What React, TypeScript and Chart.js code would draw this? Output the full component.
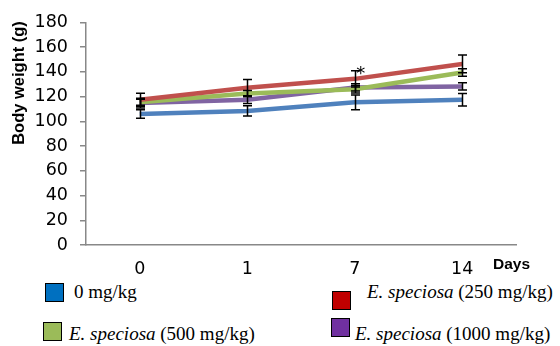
import React, { useEffect, useRef } from "react";
import { Chart, registerables } from "chart.js";

Chart.register(...registerables);

const days = ["0", "1", "7", "14"];
const control = [106, 108.5, 115.4, 117.5];
const dose250 = [117.5, 127.3, 134.4, 146.5];
const dose500 = [115.5, 122.5, 126, 139.5];
const dose1000 = [114.8, 117.5, 127.5, 128.3];
const controlErr = [3.4, 4.2, 6, 5];
const dose250Err = [5.3, 6.6, 6.6, 7.2];
const dose500Err = [2.5, 2.5, 3, 3];
const dose1000Err = [4, 3, 3, 3];
const yTicks = [0, 20, 40, 60, 80, 100, 120, 140, 160, 180];
const starIndex = 2;

const legendItems = [
  { label: "0 mg/kg", italic: "", color: "#0070C0" },
  { label: " (250 mg/kg)", italic: "E. speciosa", color: "#C00000" },
  { label: " (500 mg/kg)", italic: "E. speciosa", color: "#9BBB59" },
  { label: " (1000 mg/kg)", italic: "E. speciosa", color: "#7030A0" },
];

const errorBars = {
  id: "errorBars",
  afterDatasetsDraw(chart: any) {
    const ctx = chart.ctx;
    const yScale = chart.scales.y;
    ctx.save();
    ctx.strokeStyle = "#000";
    ctx.lineWidth = 1.5;
    chart.data.datasets.forEach((ds: any, i: number) => {
      const meta = chart.getDatasetMeta(i);
      ds.data.forEach((v: number, j: number) => {
        const e = ds.errors[j];
        const x = Math.round(meta.data[j].x) + 0.5;
        const top = yScale.getPixelForValue(v + e);
        const bot = yScale.getPixelForValue(v - e);
        ctx.beginPath();
        ctx.moveTo(x, top);
        ctx.lineTo(x, bot);
        ctx.moveTo(x - 4.5, top);
        ctx.lineTo(x + 4.5, top);
        ctx.moveTo(x - 4.5, bot);
        ctx.lineTo(x + 4.5, bot);
        ctx.stroke();
      });
    });
    // significance star over 250 mg/kg at day 7
    const meta = chart.getDatasetMeta(1);
    const sx = meta.data[starIndex].x;
    const sy = yScale.getPixelForValue(dose250[starIndex] + dose250Err[starIndex]);
    ctx.fillStyle = "#000";
    ctx.font = "18px 'DejaVu Sans'";
    ctx.textAlign = "center";
    ctx.textBaseline = "alphabetic";
    ctx.fillText("*", sx + 6, sy + 8);
    // y title
    ctx.save();
    ctx.translate(19, 83);
    ctx.rotate(-Math.PI / 2);
    ctx.font = "bold 16.5px 'Liberation Sans'";
    ctx.textBaseline = "middle";
    ctx.fillText("Body weight (g)", 0, 0);
    ctx.restore();
    ctx.restore();
  },
};

export default function App() {
  const ref = useRef<HTMLCanvasElement>(null);
  useEffect(() => {
    if (!ref.current) return;
    const mk = (label: string, data: number[], errors: number[], color: string) => ({
      label,
      data,
      errors,
      borderColor: color,
      backgroundColor: color,
      borderWidth: 4.5,
      pointRadius: 0,
      tension: 0,
      fill: false,
    });
    const chart = new Chart(ref.current, {
      type: "line",
      data: {
        labels: days,
        datasets: [
          mk("0 mg/kg", control, controlErr, "#4F81BD"),
          mk("E. speciosa (250 mg/kg)", dose250, dose250Err, "#C0504D"),
          mk("E. speciosa (500 mg/kg)", dose500, dose500Err, "#9BBB59"),
          mk("E. speciosa (1000 mg/kg)", dose1000, dose1000Err, "#8064A2"),
        ] as any,
      },
      options: {
        animation: false,
        responsive: false,
        layout: { padding: { top: 17, right: 44, left: 0, bottom: 0 } },
        plugins: { legend: { display: false }, tooltip: { enabled: false } },
        scales: {
          x: {
            offset: true,
            grid: { display: false },
            border: { display: true, color: "#888", width: 1.5 },
            ticks: { color: "#000", font: { family: "DejaVu Sans", size: 17.5 }, padding: 6 },
            afterFit: (s: any) => {
              s.height = 30;
            },
          },
          y: {
            min: 0,
            max: 180,
            afterBuildTicks: (s: any) => {
              s.ticks = yTicks.map((v) => ({ value: v }));
            },
            grid: { display: true, drawOnChartArea: false, drawTicks: true, tickLength: 6, color: "#888", lineWidth: 1.5 },
            border: { display: true, color: "#888", width: 1.5 },
            ticks: { color: "#000", font: { family: "DejaVu Sans", size: 17.5 }, padding: 12 },
            afterFit: (s: any) => {
              s.width = 86;
            },
          },
        },
      },
      plugins: [errorBars],
    });
    return () => chart.destroy();
  }, []);

  const serif = "'Liberation Serif', serif";
  const box = (color: string, style: any) => (
    <div style={{ position: "absolute", width: 17, height: 17, background: color, border: "1.5px solid #000", ...style }} />
  );
  const text = (item: any, style: any) => (
    <div style={{ position: "absolute", fontFamily: serif, fontSize: 19, color: "#000", whiteSpace: "nowrap", lineHeight: "20px", ...style }}>
      {item.italic ? <i>{item.italic}</i> : null}
      {item.label}
    </div>
  );

  return (
    <div style={{ position: "fixed", left: 0, top: 0, width: 560, height: 346, background: "#fff", overflow: "hidden" }}>
      <canvas ref={ref} width={560} height={275} style={{ position: "absolute", left: 0, top: 0 }} />
      <div style={{ position: "absolute", left: 493, top: 255, fontFamily: "'Liberation Sans'", fontWeight: "bold", fontSize: 15.5 }}>Days</div>
      {box(legendItems[0].color, { left: 45, top: 283 })}
      {text(legendItems[0], { left: 74, top: 282 })}
      {box(legendItems[1].color, { left: 332, top: 291 })}
      {text(legendItems[1], { left: 367, top: 282 })}
      {box(legendItems[2].color, { left: 43, top: 322 })}
      {text(legendItems[2], { left: 69, top: 324 })}
      {box(legendItems[3].color, { left: 331, top: 318 })}
      {text(legendItems[3], { left: 355, top: 324 })}
    </div>
  );
}
